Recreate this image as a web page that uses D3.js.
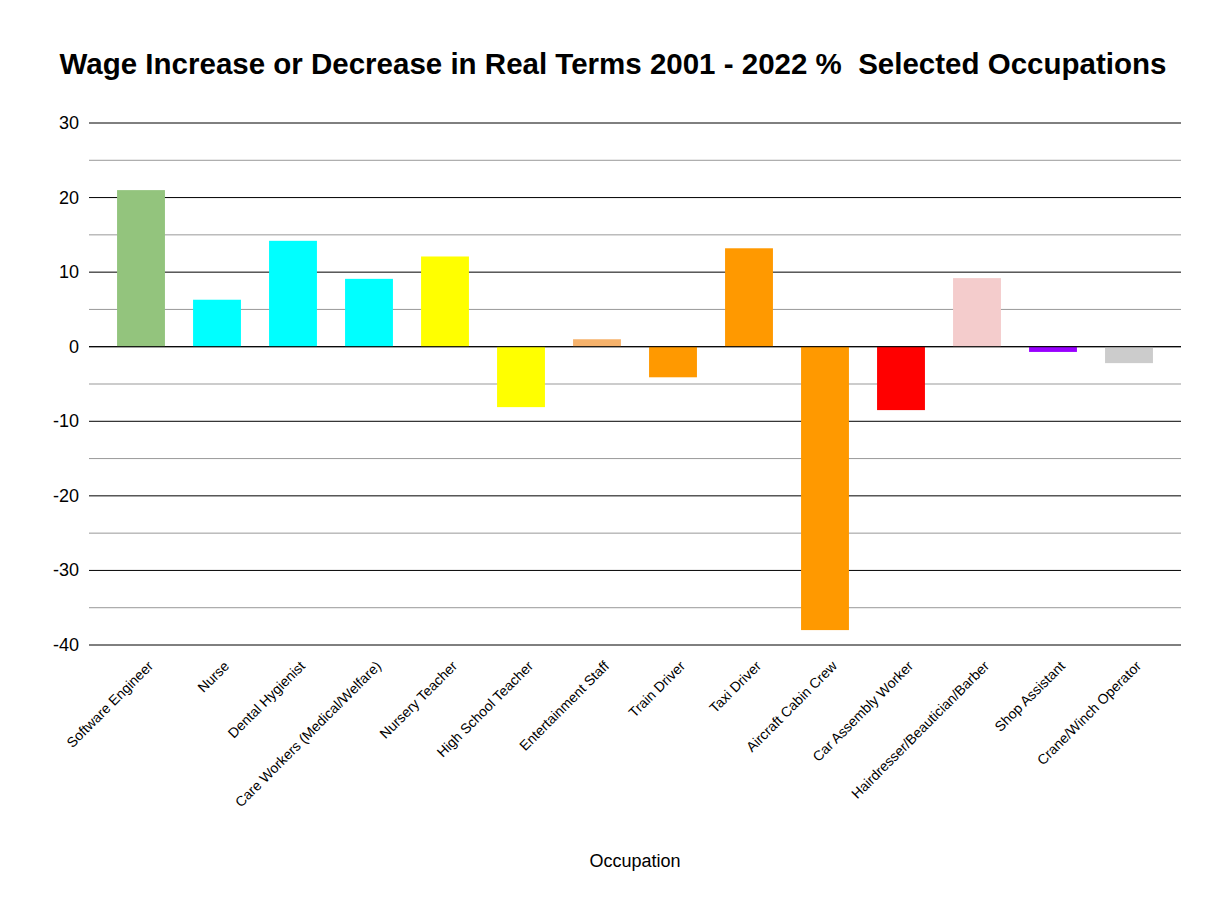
<!DOCTYPE html>
<html><head><meta charset="utf-8">
<script src="https://d3js.org/d3.v7.min.js"></script>
<style>body{margin:0;background:#fff;font-family:"Liberation Sans",Arial,sans-serif;}</style>
</head><body>
<script>
var occupations = ["Software Engineer","Nurse","Dental Hygienist","Care Workers (Medical/Welfare)","Nursery Teacher","High School Teacher","Entertainment Staff","Train Driver","Taxi Driver","Aircraft Cabin Crew","Car Assembly Worker","Hairdresser/Beautician/Barber","Shop Assistant","Crane/Winch Operator"];
var changes = [21.0, 6.3, 14.2, 9.1, 12.1, -8.1, 1.0, -4.1, 13.2, -38.0, -8.5, 9.2, -0.7, -2.2];
var colors = ["#93c47d","#00ffff","#00ffff","#00ffff","#ffff00","#ffff00","#f6b26b","#ff9900","#ff9900","#ff9900","#ff0000","#f4cccc","#9900ff","#cccccc"];
var majorTicks = [30,20,10,0,-10,-20,-30,-40];
var minorTicks = [25,15,5,-5,-15,-25,-35];

var w = 1227, h = 919;
var svg = d3.select("body").append("svg").attr("width", w).attr("height", h);

var y = d3.scaleLinear().domain([-40, 30]).range([645, 123]);
var x = d3.scaleBand().domain(occupations).range([103, 1167]).paddingInner(0.37).paddingOuter(0.185);

svg.append("text").attr("x", 613).attr("y", 74).attr("text-anchor", "middle")
   .style("font-size", "29.5px").style("font-weight", "bold").style("white-space", "pre")
   .text("Wage Increase or Decrease in Real Terms 2001 - 2022 %  Selected Occupations");

svg.selectAll("line.minor").data(minorTicks).enter().append("line")
   .attr("x1", 89).attr("x2", 1181).attr("y1", d => y(d)).attr("y2", d => y(d))
   .attr("stroke", "#999").attr("stroke-width", 1);
svg.selectAll("line.major").data(majorTicks).enter().append("line")
   .attr("x1", 89).attr("x2", 1181).attr("y1", d => y(d)).attr("y2", d => y(d))
   .attr("stroke", "#000").attr("stroke-width", 1);
svg.selectAll("text.ytick").data(majorTicks).enter().append("text")
   .attr("x", 79).attr("y", d => y(d) + 6).attr("text-anchor", "end")
   .style("font-size", "18px").text(d => d);

svg.selectAll("rect").data(changes).enter().append("rect")
   .attr("x", (d, i) => x(occupations[i]))
   .attr("width", x.bandwidth())
   .attr("y", d => y(Math.max(0, d)))
   .attr("height", d => Math.abs(y(d) - y(0)))
   .attr("fill", (d, i) => colors[i]);

svg.append("line").attr("x1", 89).attr("x2", 1181).attr("y1", y(0)).attr("y2", y(0)).attr("stroke", "#000");

svg.selectAll("text.xtick").data(occupations).enter().append("text")
   .attr("transform", d => "translate(" + (x(d) + x.bandwidth() / 2 + 6) + ",660) rotate(-45)")
   .attr("text-anchor", "end").attr("dy", "0.7em")
   .style("font-size", "14px").text(d => d);

svg.append("text").attr("x", 635).attr("y", 867).attr("text-anchor", "middle")
   .style("font-size", "18px").text("Occupation");
</script>
</body></html>
